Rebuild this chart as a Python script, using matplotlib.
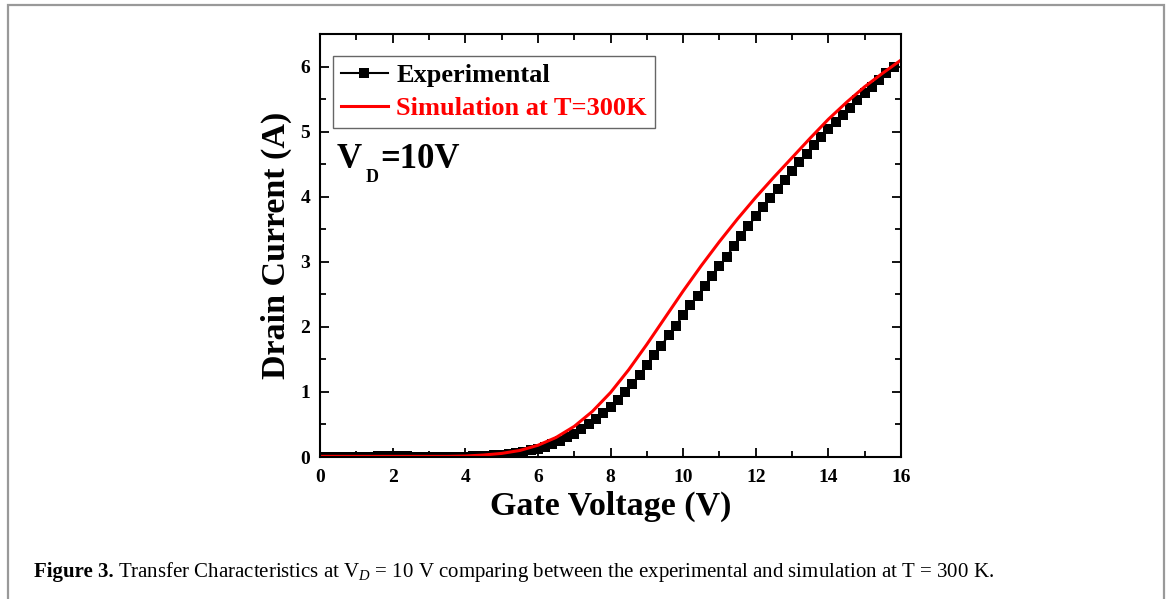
import numpy as np
import matplotlib
matplotlib.use("Agg")
import matplotlib.pyplot as plt
from matplotlib.patches import Rectangle
from matplotlib.ticker import MultipleLocator

# Measured transfer sweep: gate voltage stepped in 0.2 V increments
gate_exp = np.round(np.arange(0.0, 15.81, 0.2), 1)
drain_exp = [
    0.005, 0.005, 0.005, 0.005, 0.005, 0.005, 0.005, 0.005, 0.008, 0.008,
    0.008, 0.008, 0.008, 0.005, 0.005, 0.005, 0.005, 0.005, 0.005, 0.005,
    0.005, 0.008, 0.012, 0.018, 0.025, 0.035, 0.045, 0.06, 0.08, 0.10,
    0.13, 0.16, 0.20, 0.24, 0.30, 0.36, 0.43, 0.50, 0.58, 0.67,
    0.77, 0.88, 1.00, 1.12, 1.26, 1.41, 1.56, 1.71, 1.87, 2.02,
    2.18, 2.33, 2.48, 2.63, 2.78, 2.93, 3.08, 3.24, 3.39, 3.55,
    3.70, 3.84, 3.98, 4.12, 4.26, 4.40, 4.53, 4.66, 4.79, 4.92,
    5.04, 5.15, 5.26, 5.37, 5.48, 5.59, 5.69, 5.80, 5.90, 6.00,
]

# Device simulation at T = 300 K
gate_sim = np.round(np.arange(0.0, 16.01, 0.5), 1)
drain_sim = [
    0.01, 0.01, 0.01, 0.01, 0.01, 0.01, 0.01, 0.01, 0.015, 0.03,
    0.055, 0.10, 0.18, 0.30, 0.47, 0.70, 0.99, 1.34, 1.73, 2.14,
    2.55, 2.94, 3.31, 3.66, 3.99, 4.30, 4.60, 4.90, 5.19, 5.45,
    5.69, 5.90, 6.10,
]

x_ticks = [0, 2, 4, 6, 8, 10, 12, 14, 16]
y_ticks = [0, 1, 2, 3, 4, 5, 6]

serif = ["Liberation Serif", "DejaVu Serif"]
plt.rcParams["font.family"] = serif
plt.rcParams["mathtext.fontset"] = "custom"
plt.rcParams["mathtext.rm"] = "Liberation Serif"
plt.rcParams["mathtext.it"] = "Liberation Serif:italic"
plt.rcParams["mathtext.bf"] = "Liberation Serif:bold"

W, H = 1170, 599
fig = plt.figure(figsize=(W / 100, H / 100), dpi=100)

# page frame around the figure block
frame = Rectangle((8 / W, -0.05), (1164 - 8) / W, 1 - 5 / H + 0.05,
                  transform=fig.transFigure, fill=False,
                  edgecolor="#999999", linewidth=1.6)
fig.patches.append(frame)

ax = fig.add_axes([320 / W, 1 - 457 / H, (901 - 320) / W, (457 - 34) / H])

ax.plot(gate_exp, drain_exp, color="black", linewidth=1.5,
        marker="s", markersize=7.3, markeredgewidth=0,
        label="Experimental", zorder=2)
ax.plot(gate_sim, drain_sim, color="#ff0000", linewidth=2.2,
        label="Simulation at T=300K", zorder=3)

ax.set_xlim(0, 16)
ax.set_ylim(0, 6.5)
ax.set_xticks(x_ticks)
ax.set_yticks(y_ticks)
ax.xaxis.set_minor_locator(MultipleLocator(1))
ax.yaxis.set_minor_locator(MultipleLocator(0.5))

for s in ax.spines.values():
    s.set_linewidth(1.5)
    s.set_zorder(4)
ax.tick_params(which="both", direction="in", top=True, right=True, width=1.3)
ax.tick_params(which="major", length=6.5)
ax.tick_params(which="minor", length=4)
ax.tick_params(axis="x", which="major", pad=9)
ax.tick_params(axis="y", which="major", pad=7)
for lab in ax.get_xticklabels() + ax.get_yticklabels():
    lab.set_fontsize(14)
    lab.set_fontweight("bold")

ax.set_xlabel("Gate Voltage (V)", fontsize=24.5, fontweight="bold", labelpad=3)
ax.set_ylabel("Drain Current (A)", fontsize=24.5, fontweight="bold", labelpad=6)

leg = ax.legend(loc="upper left", bbox_to_anchor=(0.022, 0.948),
                borderaxespad=0, fancybox=False, frameon=True,
                edgecolor="#666666", framealpha=1, numpoints=1,
                handlelength=1.8, handletextpad=0.3, borderpad=0.3,
                labelspacing=0.35, prop={"family": serif, "weight": "bold", "size": 19})
leg.get_frame().set_linewidth(1.0)
for h in leg.legend_handles:
    h.set_markersize(6.5)
leg.get_texts()[1].set_color("#ff0000")

# V_D = 10V annotation with a dropped subscript
anchor = (17 / 581, (457 - 168) / 423)
ax.annotate("V", xy=anchor, xycoords="axes fraction", fontsize=25,
            fontweight="bold", ha="left", va="baseline")
ax.annotate("D", xy=anchor, xycoords="axes fraction", xytext=(20.5, -10),
            textcoords="offset points", fontsize=13, fontweight="bold",
            ha="left", va="baseline")
ax.annotate("=10V", xy=anchor, xycoords="axes fraction", xytext=(31, 0),
            textcoords="offset points", fontsize=25, fontweight="bold",
            ha="left", va="baseline")

# caption
cap_y = 1 - 577 / H
t1 = fig.text(34 / W, cap_y, "Figure 3.", fontsize=15, fontweight="bold",
              ha="left", va="baseline")
fig.canvas.draw()
bb = t1.get_window_extent(renderer=fig.canvas.get_renderer())
fig.text((bb.x1 + 4) / W, cap_y,
         r"Transfer Characteristics at V$_{\mathit{D}}$ = 10 V comparing between "
         r"the experimental and simulation at T = 300 K.",
         fontsize=15, ha="left", va="baseline")

fig.savefig("out.png", dpi=100)
